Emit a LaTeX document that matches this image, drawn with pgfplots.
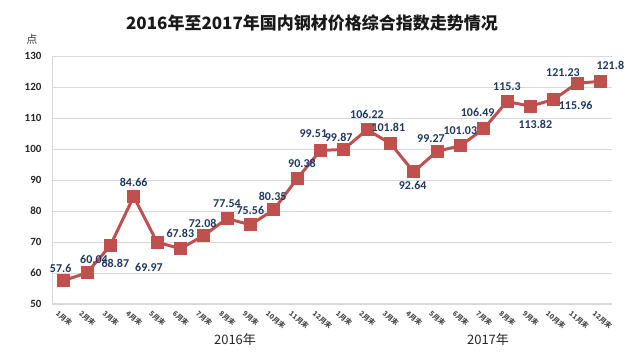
\documentclass[border=0pt]{standalone}
\usepackage{pgfplots}
\pgfplotsset{compat=1.18}
\usepackage{pgfplotstable}
\usepackage{fontspec}
\setmainfont{Carlito}
\newfontfamily\cjk{Noto Sans CJK SC}
\definecolor{linered}{HTML}{C0504D}
\definecolor{lblblue}{HTML}{1F3864}
\definecolor{gridgray}{HTML}{D9D9D9}

\pgfplotstableread{
x y lab dx dy
0 57.6 57.6 -3 12
1 60.04 60.04 7 13
2 68.87 68.87 5 -18
3 84.66 84.66 0 14
4 69.97 69.97 -8 -25
5 67.83 67.83 0 15
6 72.08 72.08 -1 12
7 77.54 77.54 0 15
8 75.56 75.56 0 14
9 80.35 80.35 -1 14
10 90.38 90.38 5 15
11 99.51 99.51 -7 17
12 99.87 99.87 -5 12
13 106.22 106.22 0 15
14 101.81 101.81 -2 16
15 92.64 92.64 -1 -14
16 99.27 99.27 -6 13
17 101.03 101.03 0 15
18 106.49 106.49 -6 16
19 115.3 115.3 0 15
20 113.82 113.82 5 -18
21 115.96 115.96 22 -6
22 121.23 121.23 -14 11
23 121.8 121.8 10 16
}\data

\begin{document}
\begin{tikzpicture}[x=1pt,y=1pt]
\path[use as bounding box] (0,0) rectangle (640,358);
\begin{axis}[
  at={(52pt,54pt)}, anchor=south west,
  scale only axis, width=560pt, height=248pt,
  xmin=-0.5, xmax=23.5, ymin=50, ymax=130,
  ytick={50,60,...,130},
  xtick={0,...,23},
  xticklabels={1月末,2月末,3月末,4月末,5月末,6月末,7月末,8月末,9月末,10月末,11月末,12月末,1月末,2月末,3月末,4月末,5月末,6月末,7月末,8月末,9月末,10月末,11月末,12月末},
  axis x line*=bottom, axis y line*=left,
  axis line style={gridgray, line width=1pt, -},
  ymajorgrids, grid style={gridgray, line width=0.8pt},
  major tick length=0pt,
  /pgf/number format/assume math mode=true,
  yticklabel style={font=\fontsize{11}{12}\selectfont\bfseries, text=black!85, xshift=-7pt},
  xticklabel style={font=\cjk\bfseries\fontsize{7}{8}\selectfont, rotate=-40, anchor=north west, text=black!70, xshift=-3pt, yshift=-4pt},
  clip=false,
]
\addplot[linered, line width=3pt, mark=square*, mark size=5pt, mark options={solid, fill=linered},
  nodes near coords, point meta=explicit symbolic,
  visualization depends on={\thisrow{dx}\as\dx},
  visualization depends on={\thisrow{dy}\as\dy},
  every node near coord/.append style={anchor=center, xshift=\dx pt, yshift=\dy pt, font=\fontsize{12}{13}\selectfont\bfseries, text=lblblue},
] table[x=x, y=y, meta=lab] {\data};
\end{axis}
\node[font=\cjk\bfseries\fontsize{17}{20}\selectfont, text=black!90] at (312,335) {2016年至2017年国内钢材价格综合指数走势情况};
\node[font=\cjk\fontsize{11}{12}\selectfont, text=black!80] at (32,319) {点};
\node[font=\cjk\fontsize{13}{14}\selectfont, text=black!85] at (235,18) {2016年};
\node[font=\cjk\fontsize{13}{14}\selectfont, text=black!85] at (488,18) {2017年};
\end{tikzpicture}
\end{document}
